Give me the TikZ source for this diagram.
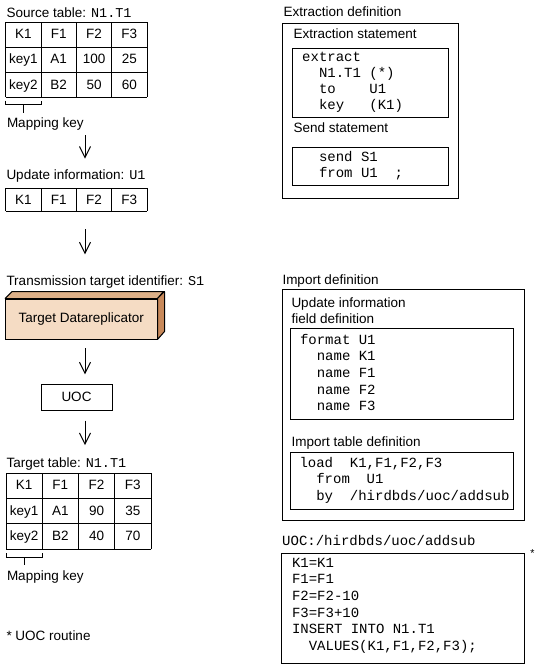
\documentclass[tikz,border=0pt]{standalone}
\usepackage{fontspec}
\setmainfont{Liberation Sans}
\setmonofont{Liberation Mono}
\usetikzlibrary{arrows.meta}
\definecolor{boxfront}{HTML}{F5DCC4}
\definecolor{boxtop}{HTML}{DDB088}
\definecolor{boxside}{HTML}{C8895A}

\tikzset{
  lbl/.style={anchor=base west,inner sep=0pt,font=\fontsize{13.5}{16}\selectfont},
  cell/.style={anchor=base,inner sep=0pt,font=\fontsize{13.5}{16}\selectfont},
  codeln/.style={anchor=base west,inner sep=0pt,font=\fontsize{14}{16}\ttfamily},
  flow/.style={-{Straight Barb[length=11pt,width=11pt]}},
}
\newcommand{\tname}[1]{{\fontsize{13.5}{16}\ttfamily #1}}

\begin{document}
\begin{tikzpicture}[x=1pt,y=-1pt,line width=1pt]
  \useasboundingbox (0,0) rectangle (557,665);

  \node[lbl] (srctitle) at (6,17) {Source table: \tname{N1.T1}};
  \foreach \i in {0,...,4} \draw ({5.7+35.33*\i},22) -- ++(0,75.3);
  \foreach \j in {0,...,3} \draw (5.7,{22+25.1*\j}) -- ++(141.3,0);
  \foreach \t [count=\c] in {K1,F1,F2,F3} \node[cell] (src-1-\c) at ({5.7+35.33*(\c-0.5)},38.3) {\t};
  \foreach \t [count=\c] in {key1,A1,100,25} \node[cell] (src-2-\c) at ({5.7+35.33*(\c-0.5)},63.8) {\t};
  \foreach \t [count=\c] in {key2,B2,50,60} \node[cell] (src-3-\c) at ({5.7+35.33*(\c-0.5)},89) {\t};
  \draw (5.7,100.5) -- (5.7,104) -- (41,104) -- (41,100.5);
  \coordinate (srckey) at (23,104);
  \node[lbl] (srcmap) at (6.5,127) {Mapping key};
  \draw (srckey) -- ++(0,9);

  \coordinate (a1s) at (85,135);
  \coordinate (a1e) at (85,158.5);
  \draw[flow] (a1s) -- (a1e);

  \node[lbl] (updtitle) at (6,179) {Update information: \tname{U1}};
  \foreach \i in {0,...,4} \draw ({5.7+35.33*\i},188) -- ++(0,23.3);
  \foreach \j in {0,1} \draw (5.7,{188+23.3*\j}) -- ++(141.3,0);
  \foreach \t [count=\c] in {K1,F1,F2,F3} \node[cell] (upd-\c) at ({5.7+35.33*(\c-0.5)},204.5) {\t};

  \coordinate (a2s) at (85,229.3);
  \coordinate (a2e) at (85,254.3);
  \draw[flow] (a2s) -- (a2e);

  \node[lbl] (ttitle) at (6,285) {Transmission target identifier: \tname{S1}};
  \node[draw,fill=boxfront,minimum width=151.3pt,minimum height=40pt,inner sep=0pt,
        font=\fontsize{13.5}{16}\selectfont] (tdr) at (81.35,319) {Target Datareplicator};
  \filldraw[fill=boxtop,line join=round] (tdr.north west) -- ++(7,-7) -- ++(151.3,0) -- (tdr.north east) -- cycle;
  \filldraw[fill=boxside,line join=round] (tdr.north east) -- ++(7,-7) -- ++(0,40) -- (tdr.south east) -- cycle;

  \coordinate (a3s) at (85,348.3);
  \coordinate (a3e) at (85,374.3);
  \draw[flow] (a3s) -- (a3e);

  \node[draw,minimum width=71pt,minimum height=26pt,inner sep=0pt,
        font=\fontsize{13.5}{16}\selectfont] (uoc) at (76.5,397) {UOC};

  \coordinate (a4s) at (85,420.5);
  \coordinate (a4e) at (85,445);
  \draw[flow] (a4s) -- (a4e);

  \node[lbl] (tgttitle) at (6,467) {Target table: \tname{N1.T1}};
  \foreach \i in {0,...,4} \draw ({6+36.25*\i},473) -- ++(0,76.3);
  \foreach \j in {0,...,3} \draw (6,{473+25.43*\j}) -- ++(145,0);
  \foreach \t [count=\c] in {K1,F1,F2,F3} \node[cell] (tgt-1-\c) at ({6+36.25*(\c-0.5)},489.5) {\t};
  \foreach \t [count=\c] in {key1,A1,90,35} \node[cell] (tgt-2-\c) at ({6+36.25*(\c-0.5)},515) {\t};
  \foreach \t [count=\c] in {key2,B2,40,70} \node[cell] (tgt-3-\c) at ({6+36.25*(\c-0.5)},540.5) {\t};
  \draw (6,553.3) -- (6,557.7) -- (42,557.7) -- (42,553.3);
  \coordinate (tgtkey) at (24,557.7);
  \node[lbl] (tgtmap) at (6.5,580) {Mapping key};
  \draw (tgtkey) -- ++(0,7.5);

  \node[lbl] (uocnote) at (6,640) {* UOC routine};

  \node[lbl] (extdef) at (283,16) {Extraction definition};
  \draw (282,23) rectangle (458,198);
  \node[lbl] (extstmt) at (293,38) {Extraction statement};
  \draw (292,48) rectangle (448,117);
  \foreach \ln [count=\i from 0] in {extract,~~N1.T1~(*),~~to~~~~U1,~~key~~~(K1)}
    \node[codeln] (ext-\i) at (301.7,{61+16*\i}) {\ln};
  \node[lbl] (sendstmt) at (293,132) {Send statement};
  \draw (292,147) rectangle (448,185);
  \foreach \ln [count=\i from 0] in {~~send~S1,~~from~U1~~;}
    \node[codeln] (send-\i) at (301.7,{161+16.5*\i}) {\ln};

  \node[lbl] (impdef) at (282,284) {Import definition};
  \draw (282,289) rectangle (524,520);
  \node[lbl] (fldtitle) at (291,307) {Update information};
  \node[lbl] (fldtitle2) at (291,323) {field definition};
  \draw (290,328) rectangle (513,419);
  \foreach \ln [count=\i from 0] in {format~U1,~~name~K1,~~name~F1,~~name~F2,~~name~F3}
    \node[codeln] (fmt-\i) at (299.5,{344+16.7*\i}) {\ln};
  \node[lbl] (loadtitle) at (291,446) {Import table definition};
  \draw (290,452) rectangle (513,509);
  \foreach \ln [count=\i from 0] in {{load~~K1,F1,F2,F3},~~from~~U1,~~by~~/hirdbds/uoc/addsub}
    \node[codeln] (load-\i) at (299,{467+16.5*\i}) {\ln};

  \node[codeln] (uoctitle) at (281.7,545) {UOC:/hirdbds/uoc/addsub};
  \draw (281,553) rectangle (524,663);
  \node[codeln,font=\fontsize{11}{13}\ttfamily] (uocstar) at (528.5,557) {*};
  \foreach \ln [count=\i from 0] in {K1=K1,F1=F1,F2=F2-10,F3=F3+10,INSERT~INTO~N1.T1,{~~VALUES(K1,F1,F2,F3);}}
    \node[codeln] (uoc-\i) at (291.5,{567+16.7*\i}) {\ln};
\end{tikzpicture}
\end{document}
